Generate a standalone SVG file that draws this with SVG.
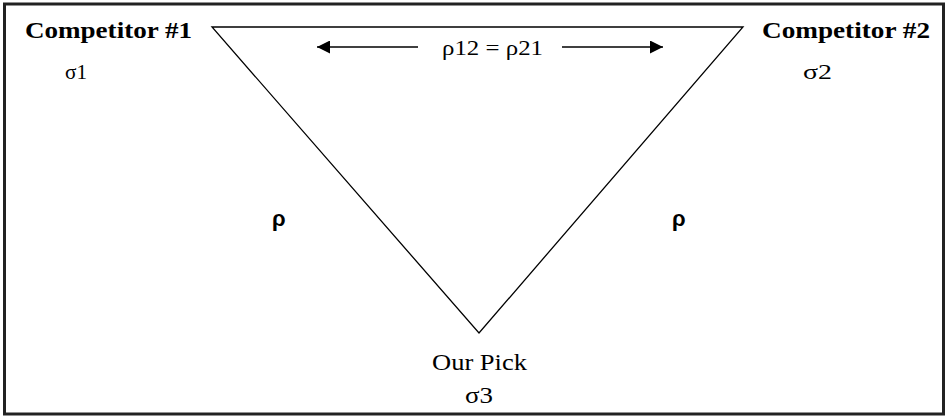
<svg xmlns="http://www.w3.org/2000/svg" width="947" height="417" viewBox="0 0 947 417">
<style>
.bold{font-family:"Liberation Serif",serif;font-weight:bold;font-size:24px;fill:#000}
.reg{font-family:"Liberation Serif",serif;font-size:22px;fill:#000}
.big{font-family:"Liberation Serif",serif;font-size:23px;fill:#000}
.rho{font-family:"Liberation Sans",sans-serif;font-weight:bold;font-size:22px;fill:#000}
.edge{stroke:#000;stroke-width:1.3;fill:none}
</style>
<defs>
<marker id="ah" viewBox="0 0 10 10" refX="10" refY="5" markerWidth="17" markerHeight="13" markerUnits="userSpaceOnUse" orient="auto">
<path d="M0,0 L10,5 L0,10 Z" fill="#000"/>
</marker>
</defs>
<rect x="0" y="0" width="947" height="417" fill="#fff"/>
<rect x="4.5" y="4" width="939" height="410" fill="none" stroke="#222" stroke-width="3"/>
<g id="connectors">
<path class="edge" d="M212,27 L743,27 L479,333 Z"/>
<line class="edge" x1="418" y1="47" x2="317" y2="47" marker-end="url(#ah)"/>
<line class="edge" x1="562" y1="47" x2="663" y2="47" marker-end="url(#ah)"/>
<text class="reg" x="442" y="55" font-size="20" textLength="101" lengthAdjust="spacingAndGlyphs">ρ12 = ρ21</text>
<text class="rho" x="272" y="226">ρ</text>
<text class="rho" x="672" y="226">ρ</text>
</g>
<g id="competitor1">
<text class="bold" x="25" y="38" textLength="167" lengthAdjust="spacingAndGlyphs">Competitor #1</text>
<text class="reg" x="65" y="79" textLength="22" lengthAdjust="spacingAndGlyphs">σ1</text>
</g>
<g id="competitor2">
<text class="bold" x="762" y="38" textLength="168" lengthAdjust="spacingAndGlyphs">Competitor #2</text>
<text class="reg" x="803" y="79" textLength="29" lengthAdjust="spacingAndGlyphs">σ2</text>
</g>
<g id="ourpick">
<text class="big" x="432" y="370" textLength="95" lengthAdjust="spacingAndGlyphs">Our Pick</text>
<text class="big" x="465" y="403" textLength="28" lengthAdjust="spacingAndGlyphs">σ3</text>
</g>
</svg>
